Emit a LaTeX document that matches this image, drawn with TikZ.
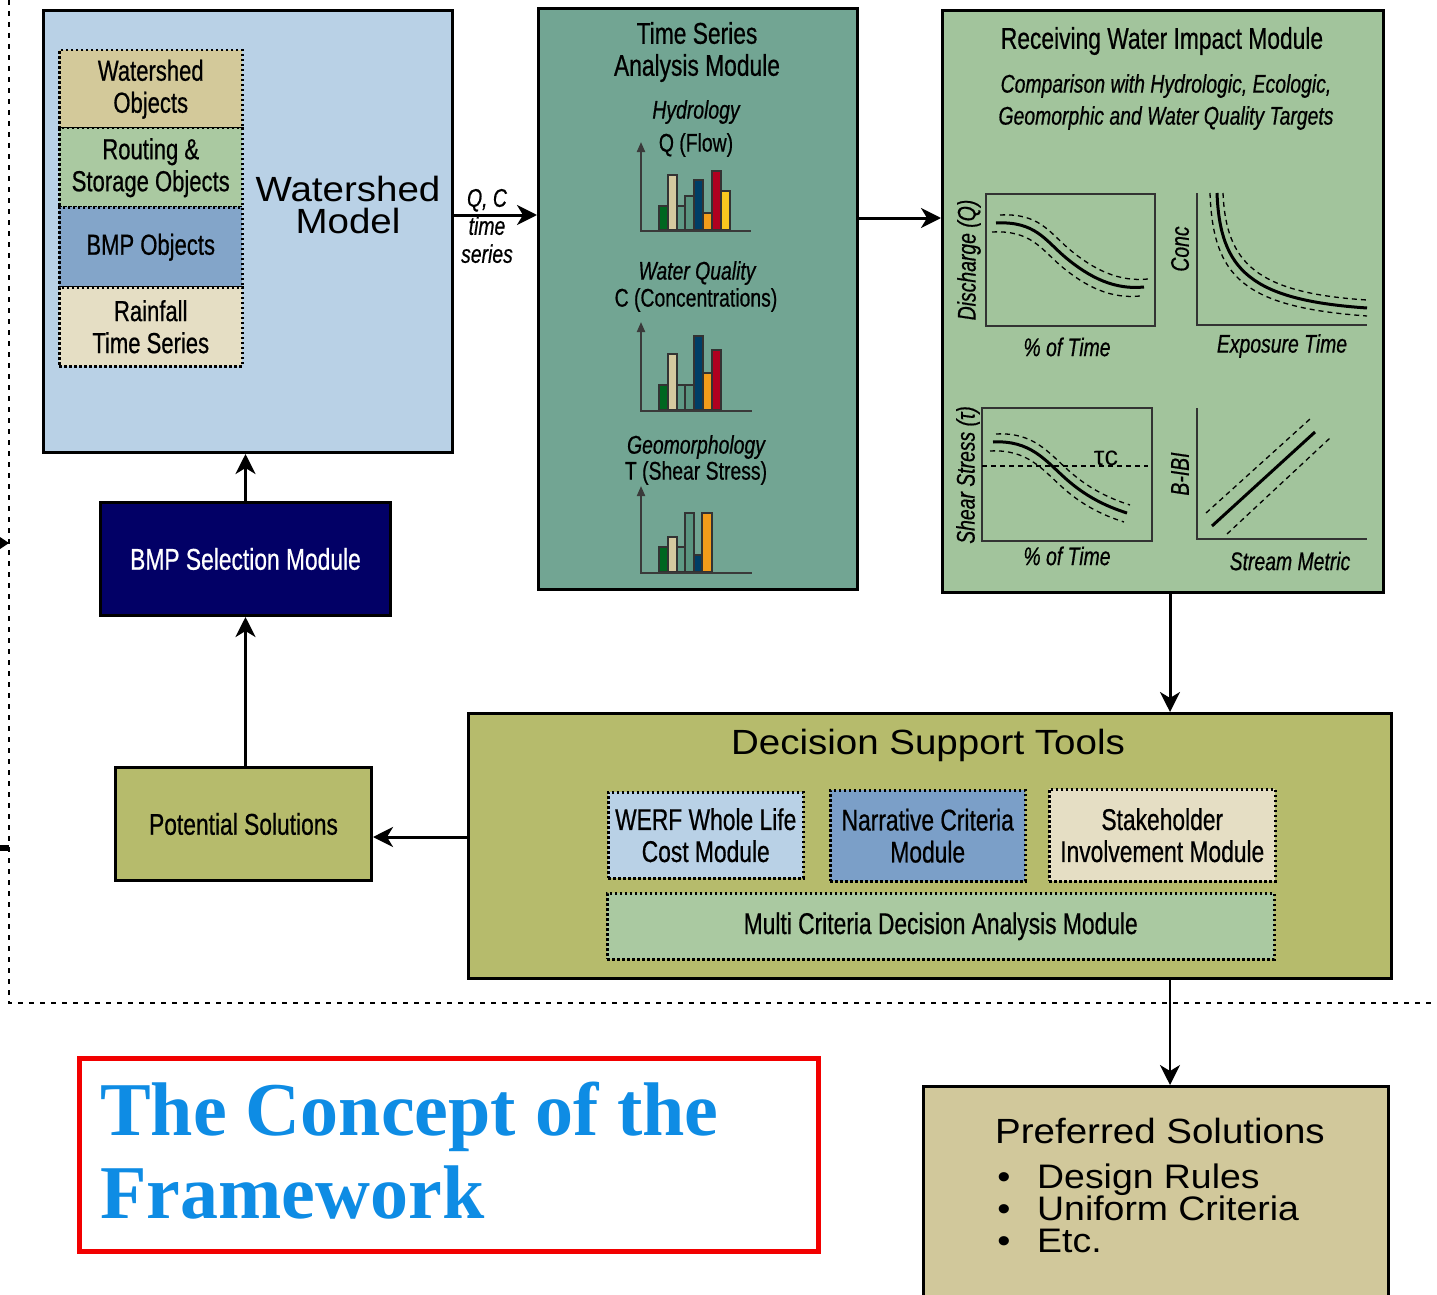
\documentclass[tikz,border=0pt]{standalone}
\usepackage{fontspec}
\setmainfont{Liberation Sans}
\newfontfamily\cnd[FakeStretch=0.76, FakeBold=0.6]{Liberation Sans}
\newfontfamily\widefont[FakeStretch=1.1]{Liberation Sans}
\newfontfamily\ttlfont{Liberation Serif}
\usetikzlibrary{arrows.meta}

\definecolor{wsblue}{HTML}{B9D1E6}
\definecolor{wtan}{HTML}{D3C99A}
\definecolor{wgreen}{HTML}{AAC9A1}
\definecolor{wbmp}{HTML}{83A5C9}
\definecolor{wcream}{HTML}{E5DEC4}
\definecolor{tsteal}{HTML}{72A593}
\definecolor{rwgreen}{HTML}{A2C49C}
\definecolor{navybox}{HTML}{020066}
\definecolor{olivebox}{HTML}{B6BB6C}
\definecolor{narrblue}{HTML}{7B9FC8}
\definecolor{prefbox}{HTML}{D1C89B}
\definecolor{titleblue}{HTML}{0E8CE4}
\definecolor{framered}{HTML}{F20000}
\definecolor{bgreen}{HTML}{006620}
\definecolor{btan}{HTML}{D4C99F}
\definecolor{bteal}{HTML}{5E9985}
\definecolor{bteal2}{HTML}{5A9480}
\definecolor{bnavy}{HTML}{003E66}
\definecolor{borange}{HTML}{F39C1A}
\definecolor{bred}{HTML}{B00020}
\definecolor{byellow}{HTML}{F9C81F}
\definecolor{axisgray}{HTML}{3A3A3A}

\begin{document}
\begin{tikzpicture}[x=1pt,y=-1pt,
  box/.style={draw=black, line width=3pt, inner sep=0pt, anchor=north west},
  dotbox/.style={draw=black, line width=2.5pt, dash pattern=on 2.5pt off 2.5pt,
    inner sep=0pt, anchor=north west, align=center},
  conn/.style={line width=3pt, -{Stealth[length=20pt,width=20pt,inset=6pt]}},
  cnd27/.style={font=\cnd\fontsize{29}{32}\selectfont, align=center},
  cnd28/.style={font=\cnd\fontsize{30}{32}\selectfont, align=center},
  itl24/.style={font=\cnd\itshape\fontsize{25.5}{28}\selectfont, align=center},
  rm24/.style={font=\cnd\fontsize{25.5}{28}\selectfont, align=center},
  widetext/.style={font=\widefont\fontsize{35}{32}\selectfont, inner sep=0pt, text height=25pt, text depth=2pt},
  listtext/.style={font=\widefont\fontsize{34}{32}\selectfont, inner sep=0pt, text height=24pt, text depth=6pt},
  titletext/.style={font=\ttlfont\bfseries\fontsize{76}{80}\selectfont, text=titleblue, anchor=base west, inner sep=0pt},
  framedash/.style={line width=2.5pt, dash pattern=on 5pt off 6pt},
  barax/.style={draw=axisgray, line width=2pt, -{Triangle[length=10pt,width=8pt]}},
  barbase/.style={draw=axisgray, line width=2pt},
  bar/.style={draw=black!80, line width=1.2pt},
  plotframe/.style={draw=black!80, line width=2pt},
  curve/.style={line width=3pt},
  dcurve/.style={line width=1.3pt, dash pattern=on 5pt off 4pt},
]
\useasboundingbox (0,0) rectangle (1437,1295);
\fill[white] (0,0) rectangle (1437,1295);

% outer dashed frame of the framework
\draw[framedash] (9,0) -- (9,1003) -- (1437,1003);
\fill (0,537) -- (9,543) -- (0,549) -- cycle;
\fill (0,845) rectangle (9,851);

% ---------------- Watershed model ----------------
\node[box, fill=wsblue, minimum width=409pt, minimum height=442pt] (ws) at (42,9) {};
\node[dotbox, fill=wtan, minimum width=183pt, minimum height=78pt, cnd27] (wsobj) at (58,49) {Watershed\\Objects};
\node[dotbox, fill=wgreen, minimum width=183pt, minimum height=79pt, cnd27] (rso) at (58,127) {Routing \&\\Storage Objects};
\node[dotbox, fill=wbmp, minimum width=183pt, minimum height=80pt, cnd27] (bmpo) at (58,206) {BMP Objects};
\node[dotbox, fill=wcream, minimum width=183pt, minimum height=79pt, cnd27] (rain) at (58,286) {Rainfall\\Time Series};
\node[widetext] (wslbl1) at (348,190) {Watershed};
\node[widetext] (wslbl2) at (348,222) {Model};

% ---------------- Time series analysis module ----------------
\node[box, fill=tsteal, minimum width=319pt, minimum height=581pt] (ts) at (537,7) {};
\node[font=\cnd\fontsize{30}{32}\selectfont, align=center] (tstitle) at (697,52) {Time Series\\Analysis Module};
\node[itl24] (hyd) at (696,112) {Hydrology};
\node[rm24] (flow) at (696,145) {Q (Flow)};
\node[itl24] (wq) at (697,273) {Water Quality};
\node[rm24] (conc) at (696,300) {C (Concentrations)};
\node[itl24] (geo) at (696,447) {Geomorphology};
\node[rm24] (shear) at (696,473) {T (Shear Stress)};

% flow bars
\draw[bar, fill=bgreen]  (659,230) rectangle (668,206);
\draw[bar, fill=btan]    (668,230) rectangle (677,175);
\draw[bar, fill=bteal]   (677,230) rectangle (685,206);
\draw[bar, fill=bteal2]  (685,230) rectangle (694,196);
\draw[bar, fill=bnavy]   (694,230) rectangle (703,180);
\draw[bar, fill=borange] (703,230) rectangle (712,213);
\draw[bar, fill=bred]    (712,230) rectangle (721,171);
\draw[bar, fill=byellow] (721,230) rectangle (730,191);
\draw[barax] (641,231) -- (641,142);
\draw[barbase] (640,231) -- (751,231);

% concentration bars
\draw[bar, fill=bgreen]  (659,410) rectangle (668,385);
\draw[bar, fill=btan]    (668,410) rectangle (677,354);
\draw[bar, fill=bteal]   (677,410) rectangle (685,385);
\draw[bar, fill=bteal2]  (685,410) rectangle (694,385);
\draw[bar, fill=bnavy]   (694,410) rectangle (703,336);
\draw[bar, fill=borange] (703,410) rectangle (712,373);
\draw[bar, fill=bred]    (712,410) rectangle (721,350);
\draw[barax] (641,411) -- (641,322);
\draw[barbase] (640,411) -- (752,411);

% shear stress bars
\draw[bar, fill=bgreen]  (659,572) rectangle (668,547);
\draw[bar, fill=btan]    (668,572) rectangle (677,537);
\draw[bar, fill=bteal]   (677,572) rectangle (685,547);
\draw[bar, fill=bteal2]  (685,572) rectangle (694,513);
\draw[bar, fill=bnavy]   (694,572) rectangle (702,555);
\draw[bar, fill=borange] (702,572) rectangle (712,513);
\draw[barax] (641,573) -- (641,486);
\draw[barbase] (640,573) -- (752,573);

% ---------------- Receiving water impact module ----------------
\node[box, fill=rwgreen, minimum width=441pt, minimum height=582pt] (rw) at (941,9) {};
\node[cnd28] (rwtitle) at (1162,41) {Receiving Water Impact Module};
\node[itl24, font=\cnd\itshape\fontsize{25.5}{32}\selectfont] (rwsub) at (1166,102) {Comparison with Hydrologic, Ecologic,\\Geomorphic and Water Quality Targets};

% flow duration plot
\draw[plotframe] (986,194) rectangle (1155,326);
\draw[curve] (996,223) .. controls (1035,221) and (1045,240) .. (1065,257) .. controls (1090,278) and (1115,290) .. (1144,287);
\draw[dcurve, shift={(4,-8)}] (996,223) .. controls (1035,221) and (1045,240) .. (1065,257) .. controls (1090,278) and (1115,290) .. (1144,287);
\draw[dcurve, shift={(-4,9)}] (996,223) .. controls (1035,221) and (1045,240) .. (1065,257) .. controls (1090,278) and (1115,290) .. (1144,287);
\node[itl24, rotate=90] (ylab1) at (969,260) {Discharge (Q)};
\node[itl24] (xlab1) at (1067,347) {\% of Time};

% exposure plot
\draw[plotframe] (1197,193) -- (1197,325) -- (1367,325);
\draw[curve] (1217,193) .. controls (1220,270) and (1250,300) .. (1367,308);
\draw[dcurve] (1223,193) .. controls (1226,263) and (1256,293) .. (1367,300);
\draw[dcurve] (1210,193) .. controls (1213,277) and (1243,307) .. (1367,316);
\node[itl24, rotate=90] (ylab2) at (1180,249) {Conc};
\node[itl24] (xlab2) at (1282,346) {Exposure Time};

% shear stress plot
\draw[plotframe] (982,408) rectangle (1152,541);
\draw[dcurve] (982,466) -- (1148,466);
\draw[curve] (993,442) .. controls (1030,440) and (1045,460) .. (1065,478) .. controls (1085,496) and (1105,506) .. (1127,513);
\draw[dcurve, shift={(3,-8)}] (993,442) .. controls (1030,440) and (1045,460) .. (1065,478) .. controls (1085,496) and (1105,506) .. (1127,513);
\draw[dcurve, shift={(-3,9)}] (993,442) .. controls (1030,440) and (1045,460) .. (1065,478) .. controls (1085,496) and (1105,506) .. (1127,513);
\node[font=\fontsize{27}{28}\selectfont] (tauc) at (1106,458) {τc};
\node[itl24, rotate=90] (ylab3) at (968,475) {Shear Stress (τ)};
\node[itl24] (xlab3) at (1067,556) {\% of Time};

% biotic index plot
\draw[plotframe] (1197,408) -- (1197,539) -- (1367,539);
\draw[curve] (1212,526) -- (1315,432);
\draw[dcurve] (1206,513) -- (1310,419);
\draw[dcurve] (1227,534) -- (1330,438);
\node[itl24, rotate=90] (ylab4) at (1180,474) {B-IBI};
\node[itl24] (xlab4) at (1290,561) {Stream Metric};

% ---------------- BMP selection and potential solutions ----------------
\node[box, fill=navybox, minimum width=290pt, minimum height=113pt, cnd28, text=white] (bmp) at (99,501) {BMP Selection Module};
\node[box, fill=olivebox, minimum width=256pt, minimum height=113pt, cnd28] (pot) at (114,766) {Potential Solutions};

% ---------------- Decision support tools ----------------
\node[box, fill=olivebox, minimum width=923pt, minimum height=265pt] (ds) at (467,712) {};
\node[widetext] (dstitle) at (928,743) {Decision Support Tools};
\node[dotbox, fill=wsblue, minimum width=195pt, minimum height=86pt, cnd28] (werf) at (607,791) {WERF Whole Life\\Cost Module};
\node[dotbox, fill=narrblue, minimum width=195pt, minimum height=91pt, cnd28] (narr) at (829,789) {Narrative Criteria\\Module};
\node[dotbox, fill=wcream, minimum width=226pt, minimum height=92pt, cnd28] (stake) at (1048,788) {Stakeholder\\Involvement Module};
\node[dotbox, fill=wgreen, minimum width=667pt, minimum height=66pt, cnd28] (mcda) at (606,892) {Multi Criteria Decision Analysis Module};

% ---------------- Preferred solutions ----------------
\node[box, fill=prefbox, minimum width=465pt, minimum height=240pt] (pref) at (922,1085) {};
\node[widetext] (preftitle) at (1160,1132) {Preferred Solutions};
\node[listtext, anchor=west] (b1) at (1037,1179) {Design Rules};
\node[listtext, anchor=west] (b2) at (1037,1211) {Uniform Criteria};
\node[listtext, anchor=west] (b3) at (1037,1243) {Etc.};
\node[font=\widefont\fontsize{34}{32}\selectfont, inner sep=0pt, text height=14pt, text depth=0pt] (d1) at (1004,1181) {•};
\node[font=\widefont\fontsize{34}{32}\selectfont, inner sep=0pt, text height=14pt, text depth=0pt] (d2) at (1004,1213) {•};
\node[font=\widefont\fontsize{34}{32}\selectfont, inner sep=0pt, text height=14pt, text depth=0pt] (d3) at (1004,1245) {•};

% ---------------- title ----------------
\node[draw=framered, line width=5pt, minimum width=739pt, minimum height=193pt, anchor=north west] (titlebox) at (77,1056) {};
\node[titletext] (title1) at (100,1135) {The Concept of the};
\node[titletext] (title2) at (100,1218) {Framework};

% ---------------- connectors ----------------
\coordinate (qc) at (490,215);
\coordinate (tr) at (898,218);
\coordinate (dn) at (1170,650);
\coordinate (lf) at (420,837);
\draw[conn] (ws.east |- qc) -- (ts.west |- qc);
\node[itl24] (qclbl) at (487,226) {Q, C\\time\\series};
\draw[conn] (ts.east |- tr) -- (rw.west |- tr);
\draw[conn] (rw.south -| dn) -- (ds.north -| dn);
\draw[conn] (ds.west |- lf) -- (pot.east |- lf);
\draw[conn] (pot.north -| bmp.south) -- (bmp.south);
\draw[conn] (bmp.north) -- (bmp.north |- ws.south);
\draw[conn, line width=2pt] (ds.south -| dn) -- (pref.north -| dn);
\end{tikzpicture}
\end{document}
